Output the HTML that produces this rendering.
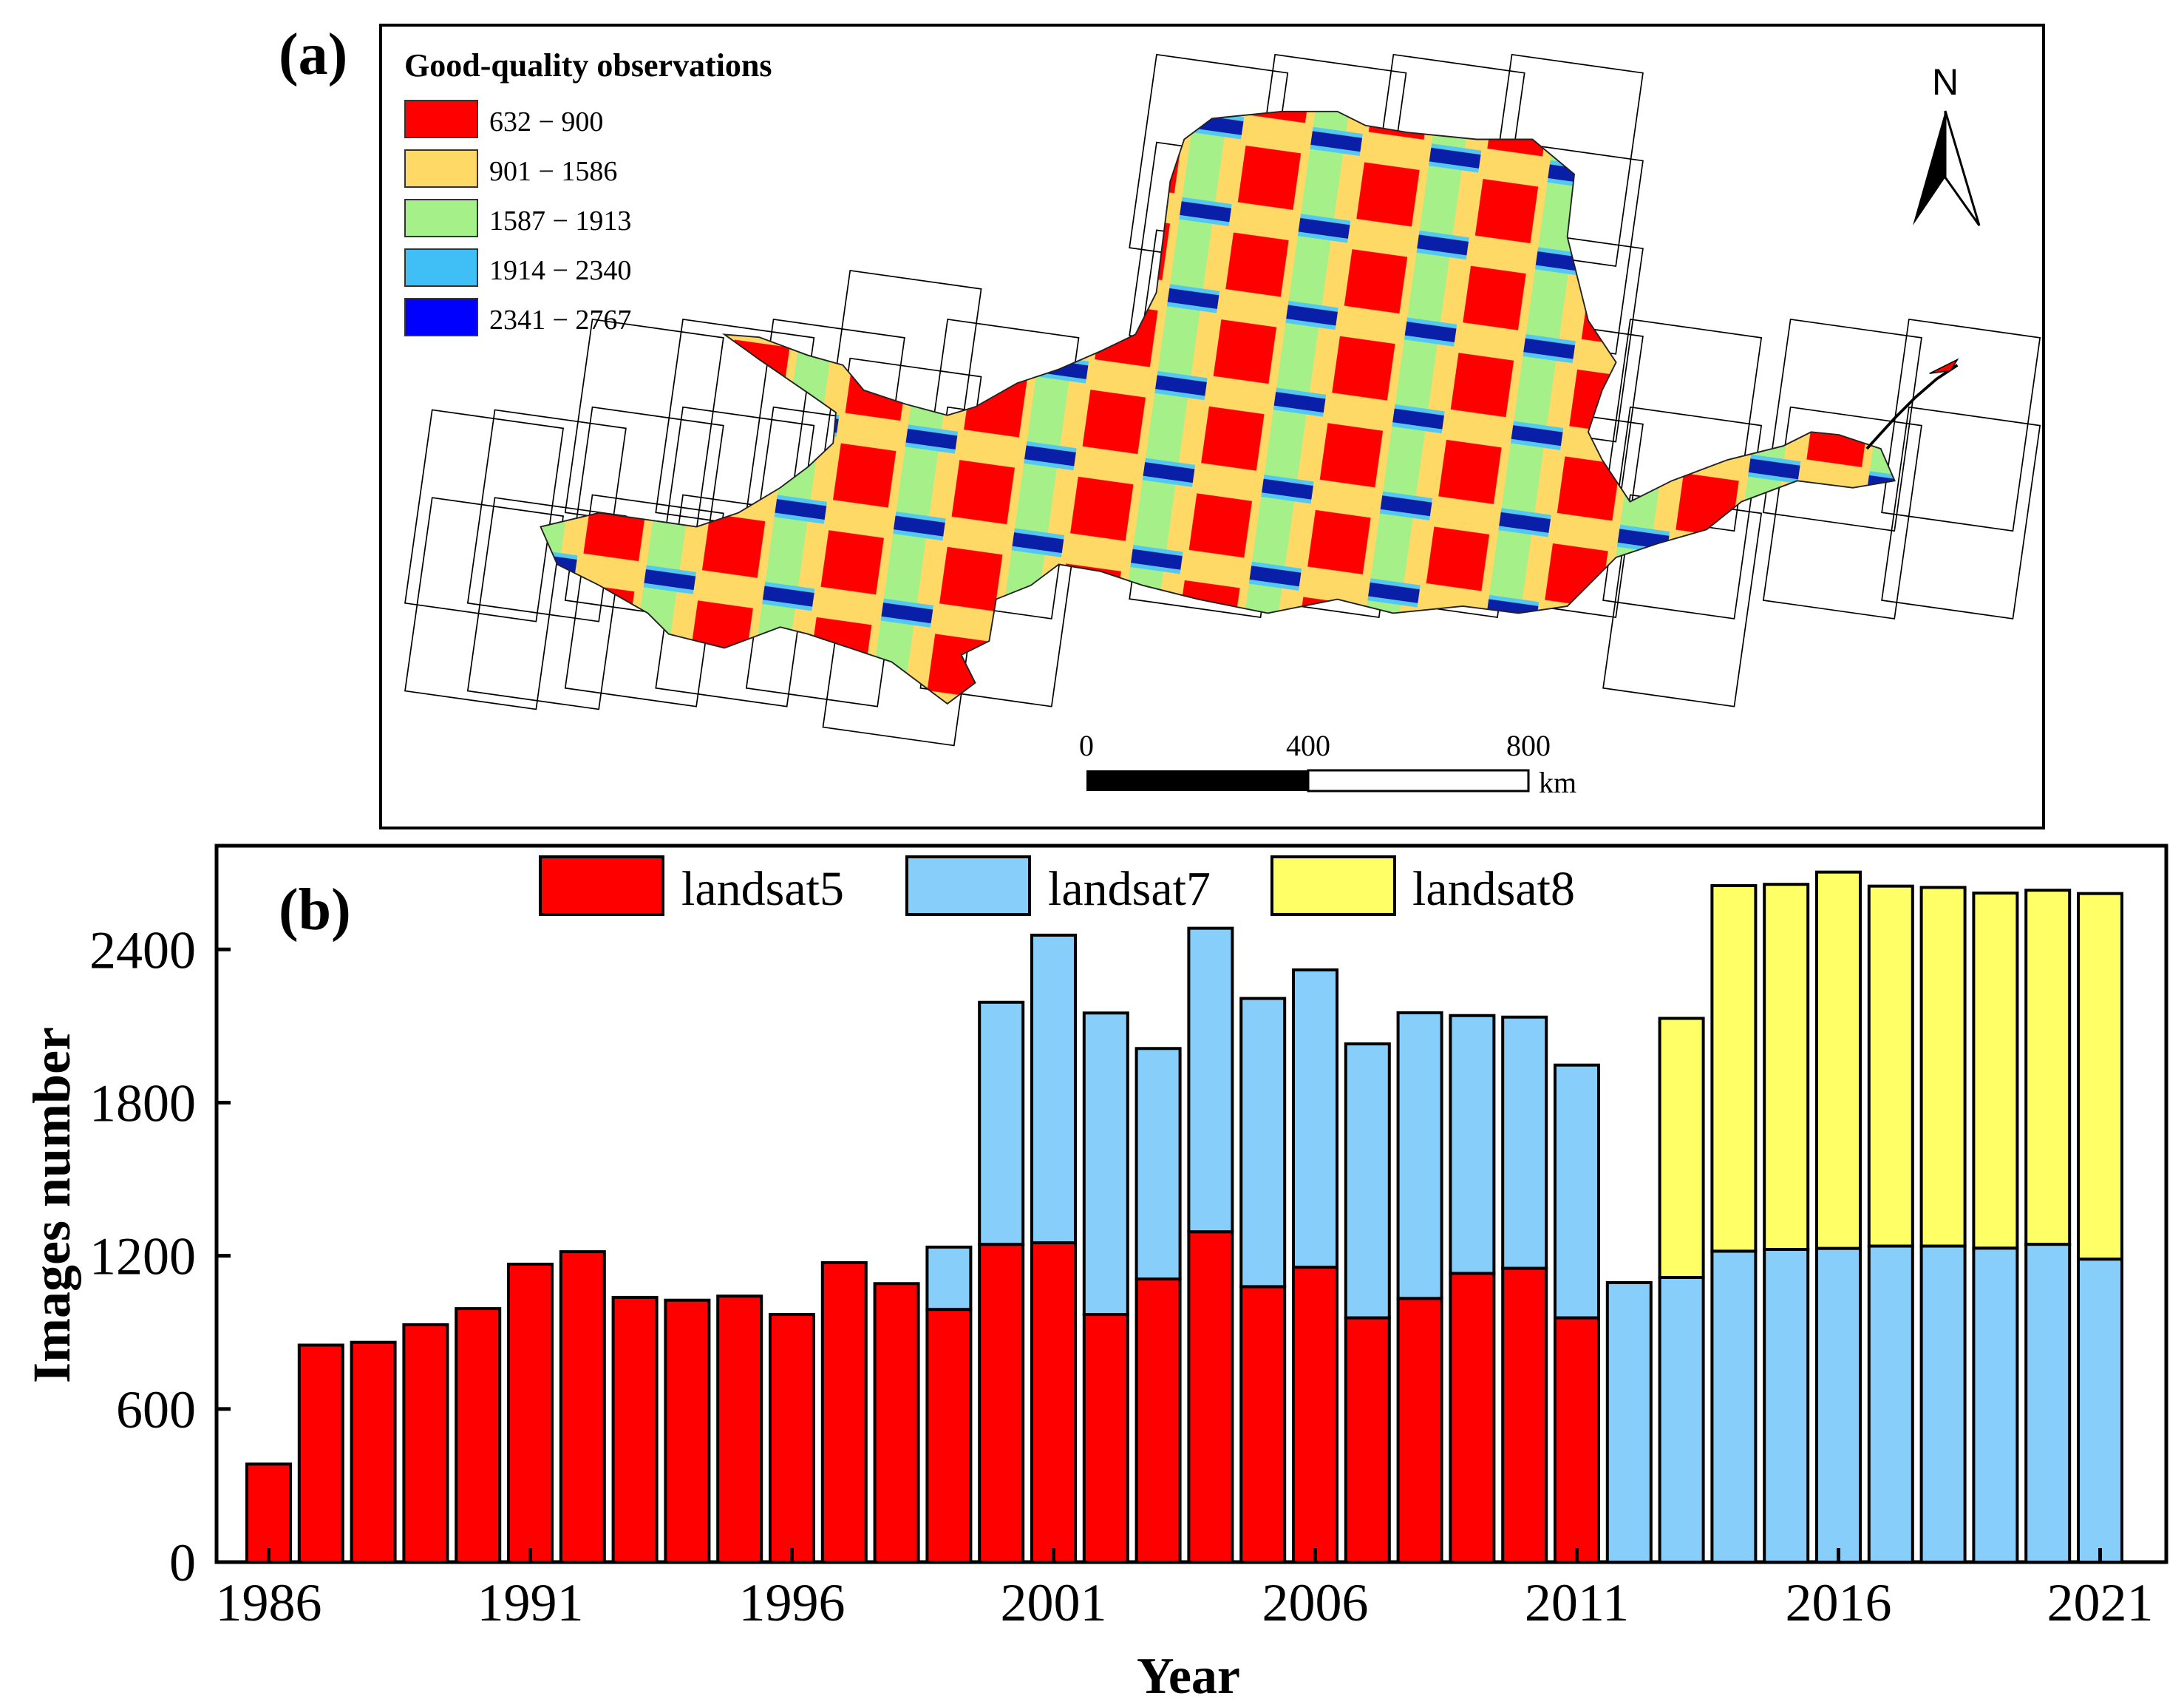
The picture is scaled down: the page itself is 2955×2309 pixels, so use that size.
<!DOCTYPE html>
<html><head><meta charset="utf-8"><style>
html,body{margin:0;padding:0;background:#fff;}
svg{display:block;font-family:"Liberation Serif",serif;}
</style></head><body>
<svg id="fig" width="2955" height="2309" viewBox="0 0 2955 2309" xmlns="http://www.w3.org/2000/svg">
<defs>
<pattern id="cols" patternUnits="userSpaceOnUse" width="86" height="63" patternTransform="rotate(8)">
<rect x="0" y="0" width="86" height="63" fill="#ffd966"/>
<rect x="0" y="0" width="24" height="63" fill="#a6f08a"/>
<rect x="0" y="22" width="36" height="3" fill="#53c8f0"/>
<rect x="0" y="25" width="36" height="10" fill="#0a1fa8"/>
<rect x="0" y="35" width="36" height="3" fill="#53c8f0"/>
<rect x="40" y="0" width="40" height="20" fill="#ff0000"/>
<rect x="40" y="42" width="40" height="21" fill="#ff0000"/>
</pattern>
<clipPath id="basinClip"><polygon id="basinPoly" points="388,378 430,368 500,378 530,368 560,350 580,335 598,318 600,296 580,282 545,258 520,240 545,242 580,255 605,262 620,280 650,290 680,298 700,292 730,275 760,265 790,252 815,240 830,210 835,170 840,130 850,100 870,85 920,80 960,80 980,90 1010,95 1060,100 1100,100 1130,125 1125,170 1140,230 1160,260 1150,280 1140,310 1150,330 1170,360 1200,345 1240,330 1280,320 1300,310 1320,312 1350,322 1360,345 1330,350 1290,345 1250,360 1225,380 1190,390 1160,400 1140,420 1125,435 1090,440 1050,435 1000,440 960,430 910,440 860,430 820,420 790,410 760,405 740,420 715,430 710,460 690,470 700,490 680,505 660,490 640,475 610,465 580,455 560,450 520,465 480,455 465,440 430,420 400,405"/></clipPath>
</defs>

<!-- Panel (a) -->
<rect x="515" y="34" width="2250" height="1086" fill="#fff" stroke="#000" stroke-width="4"/>
<text x="377" y="100" font-size="80" font-weight="bold">(a)</text>
<g transform="scale(1.885)">
<g id="tiles" fill="none" stroke="#000" stroke-width="0.9"></g>
<rect x="300" y="60" width="1100" height="470" fill="url(#cols)" clip-path="url(#basinClip)"/>
<use href="#basinPoly" fill="none" stroke="#222" stroke-width="1"/>
<polyline points="1340,322 1360,300 1375,285 1390,272 1405,262" fill="none" stroke="#000" stroke-width="2"/>
<polygon points="1385,268 1405,258 1400,266" fill="#ff0000" stroke="#000" stroke-width="0.8"/>
</g>
<g>
<text x="547" y="103" font-size="44" font-weight="bold">Good-quality observations</text>
<rect x="548" y="136" width="98" height="50" fill="#ff0000" stroke="#333" stroke-width="2"/>
<text x="662" y="177" font-size="38">632 − 900</text>
<rect x="548" y="203" width="98" height="50" fill="#ffd966" stroke="#333" stroke-width="2"/>
<text x="662" y="244" font-size="38">901 − 1586</text>
<rect x="548" y="270" width="98" height="50" fill="#a6f08a" stroke="#333" stroke-width="2"/>
<text x="662" y="311" font-size="38">1587 − 1913</text>
<rect x="548" y="337" width="98" height="50" fill="#3fbff5" stroke="#333" stroke-width="2"/>
<text x="662" y="378" font-size="38">1914 − 2340</text>
<rect x="548" y="404" width="98" height="50" fill="#0000ff" stroke="#333" stroke-width="2"/>
<text x="662" y="445" font-size="38">2341 − 2767</text>
</g>
<g>
<text x="2632" y="128" font-size="50" font-family="Liberation Sans, sans-serif" text-anchor="middle">N</text>
<polygon points="2632,150 2588,305 2632,240" fill="#000"/>
<polygon points="2632,150 2678,305 2632,240" fill="#fff" stroke="#000" stroke-width="3"/>
</g>
<g>
<rect x="1470" y="1042" width="300" height="28" fill="#000"/>
<rect x="1770" y="1042" width="298" height="28" fill="#fff" stroke="#000" stroke-width="3"/>
<text x="1470" y="1022" font-size="40" text-anchor="middle">0</text>
<text x="1770" y="1022" font-size="40" text-anchor="middle">400</text>
<text x="2068" y="1022" font-size="40" text-anchor="middle">800</text>
<text x="2082" y="1072" font-size="40">km</text>
</g>

<!-- Panel (b) -->
<g id="chart">
<rect x="293" y="1144" width="2638" height="969" fill="#fff" stroke="#000" stroke-width="5"/>
<g id="bars"></g>
<g id="axes"></g>
<text x="377" y="1257" font-size="80" font-weight="bold">(b)</text>
<text transform="translate(94,1630) rotate(-90)" text-anchor="middle" font-size="72" font-weight="bold">Images number</text>
<text x="1608" y="2290" text-anchor="middle" font-size="70" font-weight="bold">Year</text>
<g>
<rect x="731" y="1159" width="166" height="78" fill="#ff0000" stroke="#000" stroke-width="4"/>
<text x="922" y="1224" font-size="66">landsat5</text>
<rect x="1227" y="1159" width="166" height="78" fill="#87cefa" stroke="#000" stroke-width="4"/>
<text x="1418" y="1224" font-size="66">landsat7</text>
<rect x="1721" y="1159" width="166" height="78" fill="#ffff66" stroke="#000" stroke-width="4"/>
<text x="1911" y="1224" font-size="66">landsat8</text>
</g>
</g>
</svg>
<script>
const years = [1986,1987,1988,1989,1990,1991,1992,1993,1994,1995,1996,1997,1998,1999,2000,2001,2002,2003,2004,2005,2006,2007,2008,2009,2010,2011,2012,2013,2014,2015,2016,2017,2018,2019,2020,2021];
const landsat5 = [384,850,861,930,993,1167,1216,1037,1026,1042,970,1173,1091,990,1245,1251,970,1109,1294,1079,1155,957,1033,1131,1151,957,0,0,0,0,0,0,0,0,0,0];
const landsat7 = [0,0,0,0,0,0,0,0,0,0,0,0,0,244,948,1205,1181,903,1189,1129,1165,1073,1119,1010,984,990,1095,1115,1218,1225,1229,1238,1238,1230,1245,1187];
const landsat8 = [0,0,0,0,0,0,0,0,0,0,0,0,0,0,0,0,0,0,0,0,0,0,0,0,0,0,0,1015,1432,1430,1474,1410,1405,1391,1387,1432];
const yTicks = [0,600,1200,1800,2400];
const xTickYears = [1986,1991,1996,2001,2006,2011,2016,2021];

const NS = 'http://www.w3.org/2000/svg';
function xScale(yr){ return 363.5 + (yr - 1986) * 70.8; }
function yScale(v){ return 2113 - v * 0.3453; }
const barW = 59;
const barsG = document.getElementById('bars');
const series = [[landsat5,'#ff0000','landsat5'],[landsat7,'#87cefa','landsat7'],[landsat8,'#ffff66','landsat8']];
years.forEach((yr,i)=>{
  let base = 0;
  series.forEach(([arr,col,nm])=>{
    const v = arr[i];
    if(v>0){
      const r = document.createElementNS(NS,'rect');
      r.setAttribute('x', xScale(yr) - barW/2);
      r.setAttribute('y', yScale(base + v));
      r.setAttribute('width', barW);
      r.setAttribute('height', yScale(base) - yScale(base + v));
      r.setAttribute('fill', col);
      r.setAttribute('stroke', '#000');
      r.setAttribute('stroke-width', '4');
      
      
      barsG.appendChild(r);
      base += v;
    }
  });
});
const axesG = document.getElementById('axes');
yTicks.forEach(t=>{
  const y = yScale(t);
  const l = document.createElementNS(NS,'line');
  l.setAttribute('x1',293); l.setAttribute('x2',312); l.setAttribute('y1',y); l.setAttribute('y2',y);
  l.setAttribute('stroke','#000'); l.setAttribute('stroke-width','5');
  
  
  axesG.appendChild(l);
  const tx = document.createElementNS(NS,'text');
  tx.setAttribute('x',265); tx.setAttribute('y',y+25);
  tx.setAttribute('text-anchor','end'); tx.setAttribute('font-size','72');
  tx.textContent = t;
  
  
  axesG.appendChild(tx);
});
xTickYears.forEach(yr=>{
  const x = xScale(yr);
  const l = document.createElementNS(NS,'line');
  l.setAttribute('x1',x); l.setAttribute('x2',x); l.setAttribute('y1',2113); l.setAttribute('y2',2094);
  l.setAttribute('stroke','#000'); l.setAttribute('stroke-width','5');
  
  
  axesG.appendChild(l);
  const tx = document.createElementNS(NS,'text');
  tx.setAttribute('x',x); tx.setAttribute('y',2192);
  tx.setAttribute('text-anchor','middle'); tx.setAttribute('font-size','72');
  tx.textContent = yr;
  
  
  axesG.appendChild(tx);
});
// map tile outlines (decorative)
const tilesG = document.getElementById('tiles');
const tileCols = [[300,2],[345,2],[415,3],[480,3],[545,3],[600,4],[670,3],[820,5],[905,5],[990,5],[1075,5],[1160,3],[1275,2],[1360,2]];
const tileTop = [300,300,235,235,235,200,235,45,45,45,45,235,235,235];
tileCols.forEach(([x0,n],c)=>{
  for(let k=0;k<n;k++){
    const y0 = tileTop[c] + k*63;
    const r = document.createElementNS(NS,'rect');
    r.setAttribute('x', x0); r.setAttribute('y', y0);
    r.setAttribute('width', 95); r.setAttribute('height', 140);
    r.setAttribute('transform', 'rotate(8 ' + (x0+47) + ' ' + (y0+70) + ')');
    
    
    tilesG.appendChild(r);
  }
});
</script>
</body></html>
